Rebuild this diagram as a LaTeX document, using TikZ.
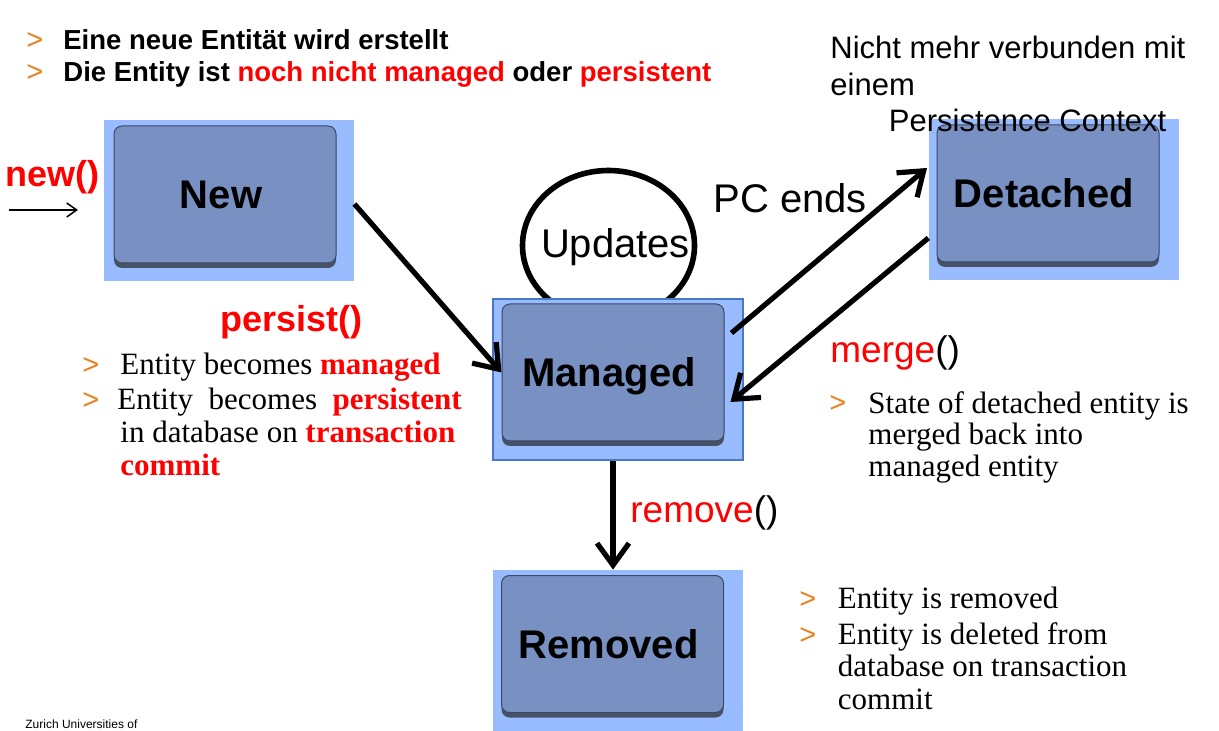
\documentclass[tikz,border=0pt]{standalone}
\usepackage{fontspec}
\setmainfont{Liberation Serif}
\setsansfont{Liberation Sans}
\usetikzlibrary{arrows.meta,shapes.geometric,shadows}

\definecolor{bgblue}{HTML}{99BBFF}
\definecolor{boxblue}{HTML}{7890C2}
\definecolor{boxedge}{HTML}{3C4866}
\definecolor{edgeblue}{HTML}{4A78C8}
\definecolor{chevorange}{HTML}{E8821E}

\tikzset{
  bgbox/.style={fill=bgblue, inner sep=0pt, minimum width=125pt, minimum height=80.5pt},
  statebox/.style={fill=boxblue, draw=boxedge, line width=0.5pt, rounded corners=4pt,
    minimum width=111pt, minimum height=68.5pt, inner sep=0pt,
    font=\sffamily\bfseries\fontsize{20}{24}\selectfont, text height=14.3pt, text depth=0pt,
    drop shadow={shadow xshift=0pt, shadow yshift=-2.5pt, opacity=0.7, fill=black!85}},
  bigarrow/.style={line width=2.6pt, -{Straight Barb[length=11pt,width=16pt]}},
  chev/.style={anchor=base west, inner sep=0pt, text=chevorange, font=\sffamily\fontsize{14.5}{15}\selectfont},
  toptext/.style={anchor=base west, inner sep=0pt, font=\sffamily\bfseries\fontsize{13.75}{16}\selectfont},
  bodytext/.style={anchor=base west, inner sep=0pt, align=left},
  sanstext/.style={anchor=base west, inner sep=0pt, font=\sffamily\fontsize{18.5}{22}\selectfont},
  callname/.style={anchor=base west, inner sep=0pt, text=red, font=\sffamily\bfseries\fontsize{18}{22}\selectfont},
}
\newcommand{\hl}[1]{\textcolor{red}{\bfseries #1}}

\begin{document}
\begin{tikzpicture}[x=0.5pt, y=-0.5pt]
\useasboundingbox (0,0) rectangle (1219,731);

% loop behind Managed
\node[draw, ellipse, line width=2.8pt, minimum width=86pt, minimum height=75pt, inner sep=0pt] (updates) at (608.5,245.5) {};

% background squares
\node[bgbox] (newbg) at (229,200.5) {};
\node[bgbox, draw=edgeblue, line width=0.75pt] (managedbg) at (618,379.5) {};
\node[bgbox] (detachedbg) at (1053.75,200) {};
\node[bgbox] (removedbg) at (617.5,650.5) {};

% states
\node[statebox] (new) at (225,194.5) {New\hspace*{4pt}};
\node[statebox] (managed) at (613,372.5) {Managed\hspace*{4pt}};
\node[statebox] (detached) at (1048,193.5) {Detached\hspace*{4pt}};
\node[statebox] (removed) at (612.5,644) {Removed\hspace*{4pt}};

% transitions
\coordinate (newstart) at (9,210);
\coordinate (newend) at (78,210);
\draw[line width=0.75pt, -{Straight Barb[length=5pt,width=7pt]}] (newstart) -- (newend);
\draw[bigarrow] ([yshift=-1.75pt]newbg.east) -- (managed.west);
\draw[bigarrow] ([shift={(7,-39.5)}]managed.east) -- ([shift={(-9.5,-25.5)}]detached.west);
\draw[bigarrow] ([yshift=-19pt]detachedbg.west) -- ([shift={(6,29.5)}]managed.east);
\draw[bigarrow] (managed.south |- managedbg.south) -- (managed.south |- removedbg.north);

% labels on the transitions
\node[callname] (newlbl) at (5,187) {new()};
\node[callname] (persistlbl) at (220,332) {persist()};
\node[anchor=base, inner sep=0pt, font=\sffamily\fontsize{20}{24}\selectfont] (updateslbl) at (615.5,258) {Updates};
\node[anchor=base west, inner sep=0pt, font=\sffamily\fontsize{20}{24}\selectfont] (pcends) at (713,213) {PC ends};
\node[sanstext] (mergelbl) at (830,363) {\textcolor{red}{merge}()};
\node[sanstext] (removelbl) at (630,522) {\textcolor{red}{remove}()};

% top notes
\node[chev] (c1) at (26,50) {>};
\node[chev] (c2) at (26,82) {>};
\node[toptext] (t1) at (63,50) {Eine neue Entität wird erstellt};
\node[toptext] (t2) at (63,82) {Die Entity ist \textcolor{red}{noch nicht managed} oder \textcolor{red}{persistent}};
\node[bodytext, font=\sffamily\fontsize{15.5}{18.25}\selectfont] (pcnote) at (830,132)
  {Nicht mehr verbunden mit\\einem\\\hspace*{29.25pt}Persistence Context};

% persist notes
\node[chev] (c3) at (82,375) {>};
\node[chev] (c4) at (82,410) {>};
\node[bodytext, font=\rmfamily\fontsize{15.5}{16.5}\selectfont] (p1) at (120,375) {Entity becomes \hl{managed}};
\node[bodytext, font=\rmfamily\fontsize{15.5}{16.25}\selectfont] (p2) at (117,475)
  {Entity~ becomes~ \hl{persistent}\\\hspace*{1.5pt}in database on \hl{transaction}\\\hspace*{1.5pt}\hl{commit}};

% merge notes
\node[chev] (c5) at (829,413) {>};
\node[bodytext, font=\rmfamily\fontsize{15.5}{15.75}\selectfont] (m1) at (868,476)
  {State of detached entity is\\merged back into\\managed entity};

% remove notes
\node[chev] (c6) at (799,608) {>};
\node[chev] (c7) at (799,644) {>};
\node[bodytext, font=\rmfamily\fontsize{15.5}{16.25}\selectfont] (r1) at (837.5,608) {Entity is removed};
\node[bodytext, font=\rmfamily\fontsize{15.5}{16.25}\selectfont] (r2) at (837.5,709)
  {Entity is deleted from\\database on transaction\\commit};

\node[anchor=base west, inner sep=0pt, font=\sffamily\fontsize{6}{7}\selectfont] (footer) at (25,728) {Zurich Universities of};
\end{tikzpicture}
\end{document}
